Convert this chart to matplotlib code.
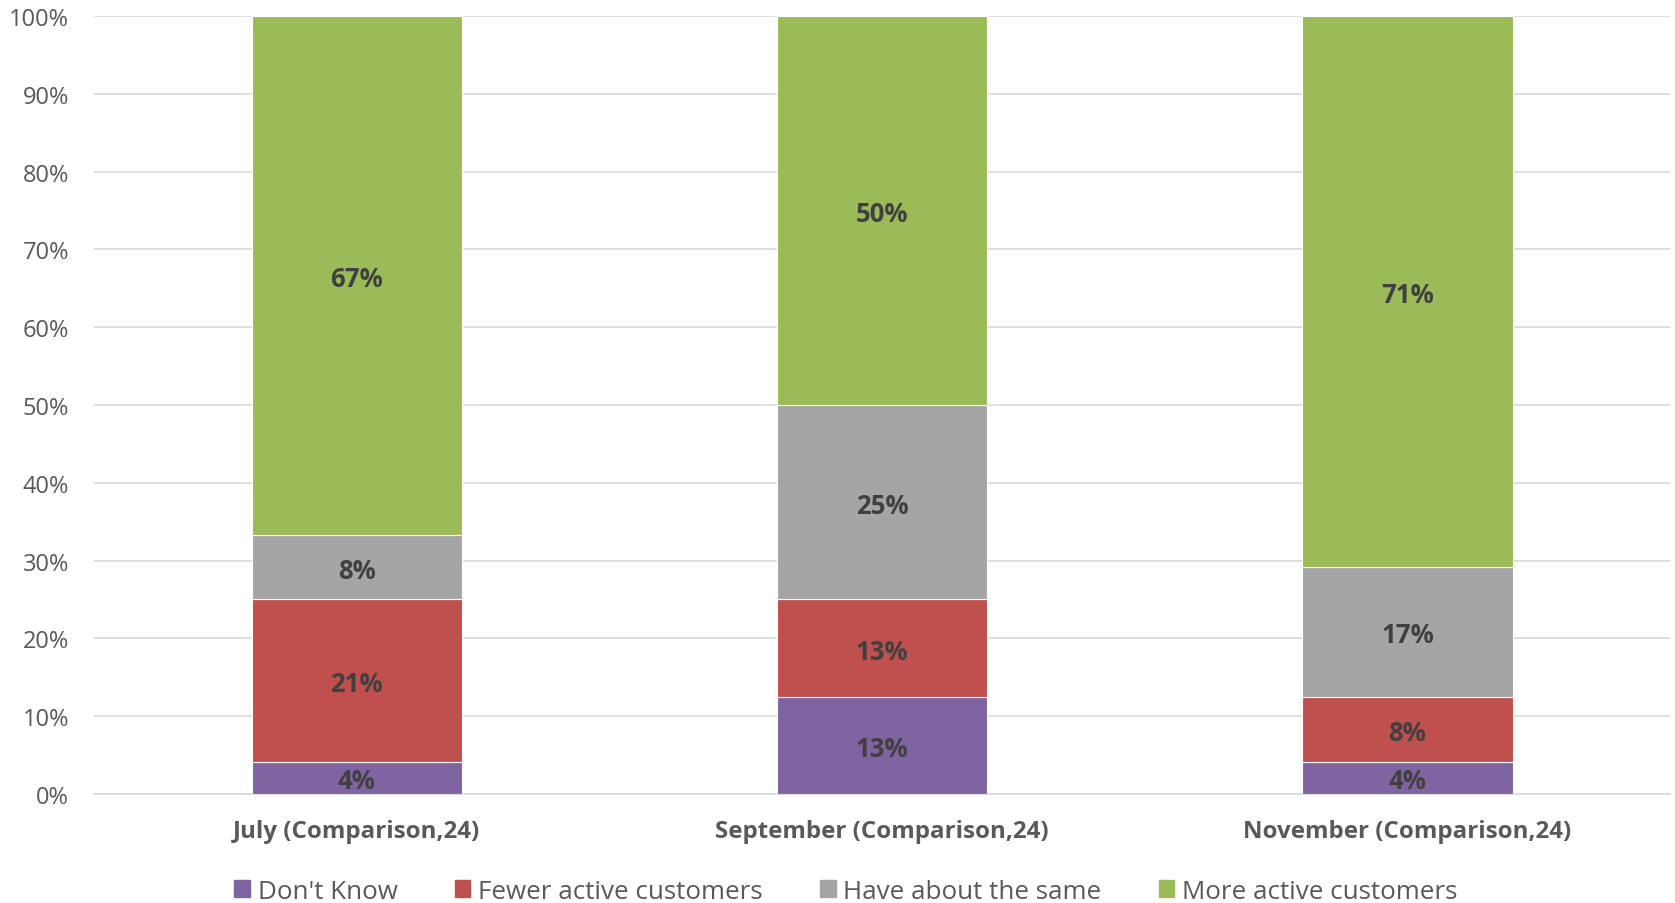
import numpy as np
import matplotlib.pyplot as plt
from matplotlib.patches import Patch

plt.rcParams['font.family'] = ['Open Sans', 'DejaVu Sans']

months = ['July (Comparison,24)', 'September (Comparison,24)', 'November (Comparison,24)']
series = ["Don't Know", 'Fewer active customers', 'Have about the same', 'More active customers']
dont_know = [1/24, 3/24, 1/24]
fewer = [5/24, 3/24, 2/24]
same = [2/24, 6/24, 4/24]
more = [16/24, 12/24, 17/24]
colors = ['#8064A2', '#C0504D', '#A5A5A5', '#9BBB59']

fig = plt.figure(figsize=(16.75, 9.04), dpi=100)
ax = fig.add_axes([0.0561, 0.1206, 0.941, 0.8606])

x = np.arange(len(months))
bottom = np.zeros(len(months))
for vals, name, c in zip([dont_know, fewer, same, more], series, colors):
    vals = np.array(vals)
    ax.bar(x, vals, 0.4, bottom=bottom, color=c, edgecolor='white', linewidth=0.8, label=name, zorder=3)
    for xi, b, v in zip(x, bottom, vals):
        # excel rounds half up
        ax.text(xi, b + v / 2, f'{int(np.floor(v*100 + 0.5))}%', ha='center', va='center_baseline',
                fontsize=18.5, fontweight='bold', color='#404040', zorder=4)
    bottom += vals

ax.set_xlim(-0.5, 2.5)
ax.set_ylim(0, 1)
ticks = np.arange(0, 1.01, 0.1)
ax.set_yticks(ticks)
ax.set_yticklabels([f'{int(round(t*100))}%' for t in ticks], fontsize=17, color='#595959')
ax.set_xticks(x)
ax.set_xticklabels(months, fontsize=17.4, fontweight='bold', color='#595959')
ax.tick_params(axis='both', length=0)
ax.tick_params(axis='x', pad=18)
ax.tick_params(axis='y', pad=18)
ax.grid(axis='y', color='#D9D9D9', linewidth=1.2, zorder=0)
for s in ['top', 'right', 'left']:
    ax.spines[s].set_visible(False)
ax.spines['bottom'].set_color('#D9D9D9')
ax.spines['bottom'].set_linewidth(1.2)

handles = [Patch(color=c, label=n) for n, c in zip(series, colors)]
fig.legend(handles=handles, loc='center', bbox_to_anchor=(0.505, 0.013), ncol=4, frameon=False,
           fontsize=18.7, labelcolor='#595959', handlelength=0.6, handleheight=0.6,
           handletextpad=0.3, columnspacing=2.2)

fig.savefig('out.png', dpi=100)
